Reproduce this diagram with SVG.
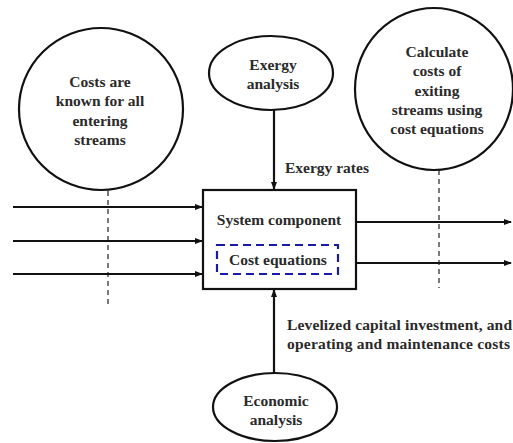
<svg xmlns="http://www.w3.org/2000/svg" width="513" height="443" viewBox="0 0 513 443">
<defs>
<marker id="ah" markerWidth="8" markerHeight="8" refX="7" refY="4" orient="auto" markerUnits="userSpaceOnUse">
<path d="M0,1 L8,4 L0,7 Z" fill="#111"/>
</marker>
</defs>
<style>
.sh{fill:#fff;stroke:#111;stroke-width:2.2}
text{font-family:'Liberation Serif','Times New Roman',serif;font-weight:bold;font-size:15.5px;fill:#2a2a2a}
.t{text-anchor:middle}
.ln{stroke:#111;stroke-width:2.2;fill:none}
.dl{stroke:#333;stroke-width:1.3;stroke-dasharray:5,4;fill:none}
</style>
<rect width="513" height="443" fill="#fff"/>
<g id="dashes">
<line class="dl" x1="108" y1="191" x2="108" y2="308"/>
<line class="dl" x1="439" y1="170" x2="439" y2="288"/>
</g>
<g id="connectors">
<line class="ln" x1="274" y1="110" x2="274" y2="189" marker-end="url(#ah)"/>
<line class="ln" x1="274" y1="373" x2="274" y2="290" marker-end="url(#ah)"/>
<line class="ln" x1="13" y1="207" x2="202" y2="207" marker-end="url(#ah)"/>
<line class="ln" x1="13" y1="241" x2="202" y2="241" marker-end="url(#ah)"/>
<line class="ln" x1="13" y1="274" x2="202" y2="274" marker-end="url(#ah)"/>
<line class="ln" x1="356" y1="222" x2="511" y2="222" marker-end="url(#ah)"/>
<line class="ln" x1="356" y1="263" x2="511" y2="263" marker-end="url(#ah)"/>
</g>
<g id="known">
<ellipse class="sh" cx="101" cy="109" rx="82" ry="81"/>
<text class="t" x="100" y="87">Costs are</text>
<text class="t" x="100" y="106">known for all</text>
<text class="t" x="100" y="126">entering</text>
<text class="t" x="100" y="145">streams</text>
</g>
<g id="exergy">
<ellipse class="sh" cx="271" cy="73" rx="62" ry="37"/>
<text class="t" x="273" y="70">Exergy</text>
<text class="t" x="273" y="89">analysis</text>
</g>
<g id="calc">
<ellipse class="sh" cx="434" cy="89" rx="79" ry="81"/>
<text class="t" x="437" y="57">Calculate</text>
<text class="t" x="437" y="76">costs of</text>
<text class="t" x="437" y="96">exiting</text>
<text class="t" x="437" y="115">streams using</text>
<text class="t" x="437" y="134">cost equations</text>
</g>
<g id="component">
<rect class="sh" x="203" y="190" width="153" height="99"/>
<text class="t" x="279" y="225">System component</text>
<rect x="217" y="245" width="121" height="29" fill="none" stroke="#1a1aa8" stroke-width="2.2" stroke-dasharray="8,5"/>
<text class="t" x="278" y="265">Cost equations</text>
</g>
<g id="economic">
<ellipse class="sh" cx="275" cy="407" rx="62" ry="34"/>
<text class="t" x="276" y="406">Economic</text>
<text class="t" x="276" y="425">analysis</text>
</g>
<g id="labels">
<text x="285" y="173">Exergy rates</text>
<text x="287" y="330" textLength="225">Levelized capital investment, and</text>
<text x="287" y="349" textLength="223">operating and maintenance costs</text>
</g>
</svg>
